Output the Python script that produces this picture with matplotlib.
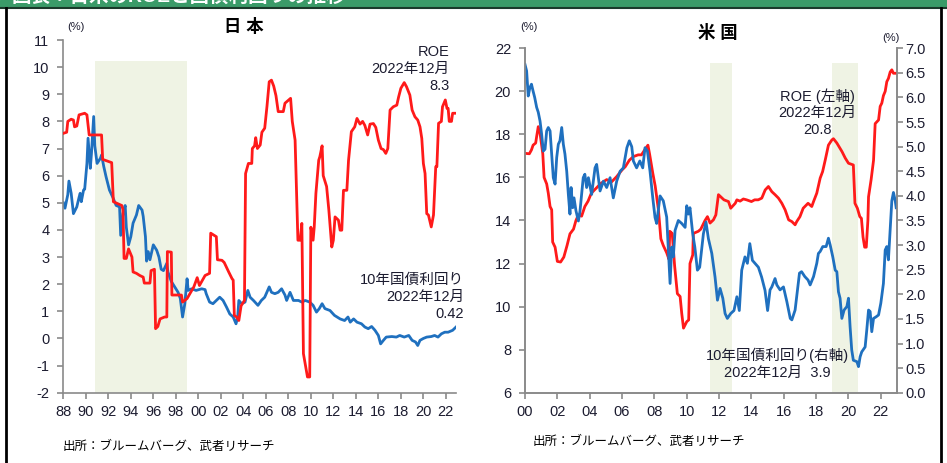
import matplotlib
matplotlib.use('Agg')
import matplotlib.pyplot as plt
from matplotlib.patches import Rectangle
from matplotlib.lines import Line2D

plt.rcParams['font.family'] = ['Liberation Sans', 'Noto Sans CJK JP']
plt.rcParams['axes.unicode_minus'] = False

# ---- Japan: ROE and 10y JGB yield (%), decimal years ----
jp_roe_year = [1988.0, 1988.3, 1988.4, 1988.7, 1988.9, 1989.0, 1989.2, 1989.4, 1989.9, 1990.1,
               1990.3, 1991.4, 1991.5, 1992.3, 1992.45, 1993.2, 1993.3, 1993.4, 1993.6, 1993.8,
               1994.1, 1994.2, 1994.5, 1994.8, 1995.1, 1995.2, 1995.7, 1995.8, 1996.1, 1996.2,
               1996.4, 1996.6, 1997.0, 1997.2, 1997.25, 1997.6, 1997.65, 1998.5, 1998.6, 1999.0,
               1999.6, 1999.9, 2000.1, 2000.6, 2001.0, 2001.1, 2001.6, 2001.7, 2002.1, 2002.3,
               2002.7, 2003.0, 2003.1, 2003.2, 2003.4, 2003.6, 2003.8, 2004.1, 2004.2, 2004.45,
               2004.75, 2004.8, 2005.0, 2005.1, 2005.25, 2005.5, 2005.65, 2005.9, 2006.1, 2006.3,
               2006.5, 2006.7, 2006.9, 2007.1, 2007.55, 2007.7, 2008.2, 2008.35, 2008.6, 2008.85,
               2009.05, 2009.2, 2009.34, 2009.55, 2009.7, 2009.9, 2010.0, 2010.2, 2010.3, 2010.45,
               2010.7, 2010.8, 2011.0, 2011.1, 2011.4, 2011.6, 2011.86, 2012.0, 2012.15, 2012.45,
               2012.6, 2012.75, 2012.9, 2013.2, 2013.35, 2013.6, 2013.9, 2014.1, 2014.37, 2014.6,
               2014.8, 2015.05, 2015.26, 2015.56, 2015.77, 2016.0, 2016.24, 2016.45, 2016.66, 2016.84,
               2017.04, 2017.33, 2017.64, 2017.8, 2018.0, 2018.3, 2018.5, 2018.8, 2019.0, 2019.25,
               2019.5, 2019.7, 2019.86, 2020.0, 2020.15, 2020.3, 2020.45, 2020.7, 2020.9, 2021.1,
               2021.2, 2021.35, 2021.6, 2021.7, 2021.95, 2022.1, 2022.2, 2022.3, 2022.5, 2022.6,
               2022.9]
jp_roe = [7.56, 7.6, 8.0, 8.08, 8.05, 7.8, 7.83, 8.24, 8.3, 8.24,
          7.5, 7.5, 6.6, 6.48, 5.04, 4.9, 4.75, 2.95, 2.95, 3.3,
          3.0, 2.45, 2.4, 2.32, 2.26, 2.04, 2.04, 2.5, 2.55, 0.36,
          0.44, 0.72, 0.79, 0.79, 3.2, 3.18, 1.6, 1.6, 1.34, 1.47,
          1.9, 2.24, 1.95, 2.32, 2.4, 3.88, 3.75, 2.9, 2.88, 2.8,
          2.45, 2.2, 2.15, 0.85, 0.79, 0.66, 1.2, 1.4, 6.08, 6.45,
          6.45, 7.0, 7.1, 7.4, 7.0, 7.13, 7.6, 7.75, 8.55, 9.46,
          9.52, 9.3, 8.95, 8.36, 8.36, 8.67, 8.85, 8.0, 7.31, 3.62,
          3.62, 4.24, -0.56, -1.05, -1.42, -1.42, 4.1, 3.62, 4.1, 5.35,
          6.57, 6.7, 7.1, 6.0, 5.6, 4.73, 3.37, 3.62, 4.48, 4.36,
          3.99, 3.99, 5.46, 5.46, 6.57, 7.62, 7.8, 8.11, 7.9, 8.0,
          7.85, 7.5, 7.9, 7.92, 7.78, 7.31, 7.0, 6.96, 6.82, 7.0,
          8.42, 8.54, 8.6, 8.9, 9.22, 9.43, 9.28, 8.97, 8.42, 8.17,
          8.05, 7.8, 7.37, 6.45, 6.08, 4.6, 4.55, 4.11, 4.55, 6.33,
          6.33, 7.93, 8.0, 8.54, 8.79, 8.48, 8.48, 8.0, 8.0, 8.3,
          8.3]

jp_bond_year = [1988.0, 1988.15, 1988.3, 1988.4, 1988.5, 1988.7, 1988.9, 1989.2, 1989.4, 1989.5,
                1989.6, 1989.8, 1989.9, 1990.1, 1990.2, 1990.4, 1990.5, 1990.7, 1990.8, 1991.0,
                1991.3, 1991.4, 1991.6, 1991.8, 1992.1, 1992.4, 1992.7, 1993.0, 1993.1, 1993.3,
                1993.5, 1993.6, 1993.8, 1994.0, 1994.2, 1994.5, 1994.7, 1995.0, 1995.1, 1995.3,
                1995.4, 1995.55, 1995.7, 1996.0, 1996.3, 1996.5, 1996.7, 1996.9, 1997.2, 1997.3,
                1997.6, 1997.9, 1998.2, 1998.4, 1998.6, 1998.8, 1999.0, 1999.1, 1999.4, 1999.8,
                2000.3, 2000.6, 2000.7, 2001.0, 2001.3, 2001.6, 2001.9, 2002.2, 2002.5, 2002.8,
                2003.1, 2003.35, 2003.5, 2003.6, 2003.85, 2004.15, 2004.4, 2004.6, 2004.9, 2005.3,
                2005.6, 2005.9, 2006.3, 2006.5, 2006.8, 2007.1, 2007.4, 2007.7, 2007.85, 2008.15,
                2008.45, 2008.9, 2009.2, 2009.5, 2009.9, 2010.2, 2010.5, 2010.75, 2011.0, 2011.25,
                2011.7, 2012.1, 2012.6, 2013.0, 2013.3, 2013.5, 2013.8, 2014.1, 2014.5, 2014.8,
                2015.1, 2015.4, 2015.7, 2016.0, 2016.2, 2016.45, 2016.7, 2017.2, 2017.6, 2017.9,
                2018.3, 2018.7, 2019.0, 2019.3, 2019.5, 2019.7, 2020.0, 2020.3, 2020.7, 2021.0,
                2021.3, 2021.6, 2021.9, 2022.2, 2022.6, 2022.9]
jp_bond = [5.0, 4.8, 5.1, 5.3, 5.8, 5.35, 4.6, 4.85, 5.2, 5.35,
           5.04, 5.47, 5.5, 6.45, 7.38, 6.27, 6.8, 8.18, 7.1, 6.45,
           6.64, 6.76, 6.33, 5.96, 5.47, 5.2, 4.9, 4.85, 3.8, 4.6,
           4.9, 4.1, 3.45, 3.75, 4.25, 4.55, 4.9, 4.73, 4.5, 3.75,
           2.85, 3.2, 2.9, 3.45, 3.25, 3.0, 2.55, 2.5, 2.77, 2.45,
           2.1, 1.9, 1.7, 1.47, 0.79, 1.28, 2.2, 1.77, 1.83, 1.77,
           1.83, 1.8, 1.65, 1.34, 1.28, 1.4, 1.52, 1.4, 1.16, 0.9,
           0.79, 0.54, 0.79, 1.4, 1.28, 1.34, 1.77, 1.52, 1.4, 1.22,
           1.4, 1.52, 1.9, 1.7, 1.65, 1.7, 1.83, 1.6, 1.4, 1.7,
           1.4, 1.4, 1.34, 1.4, 1.34, 1.22, 0.97, 1.1, 1.28, 1.1,
           1.03, 0.85, 0.72, 0.66, 0.79, 0.6, 0.72, 0.6, 0.54, 0.42,
           0.36, 0.44, 0.3, 0.11, -0.2, -0.07, 0.05, 0.07, 0.05, 0.11,
           0.05, 0.11, -0.07, -0.13, -0.26, -0.07, 0.0, 0.05, 0.07, 0.11,
           0.05, 0.17, 0.23, 0.23, 0.3, 0.42]
jp_shade = [1990.8, 1998.97]

# ---- US: ROE (left axis, %) and 10y Treasury yield (right axis, %) ----
us_roe_year = [2000.0, 2000.27, 2000.4, 2000.5, 2000.66, 2000.72, 2000.82, 2000.93, 2001.1, 2001.18,
               2001.34, 2001.44, 2001.55, 2001.65, 2001.71, 2001.86, 2002.0, 2002.2, 2002.4, 2002.6,
               2002.78, 2003.0, 2003.15, 2003.3, 2003.5, 2003.7, 2003.9, 2004.1, 2004.4, 2004.7,
               2005.05, 2005.36, 2005.67, 2006.0, 2006.2, 2006.45, 2006.7, 2007.0, 2007.2, 2007.4,
               2007.6, 2007.7, 2007.9, 2008.05, 2008.25, 2008.4, 2008.55, 2008.76, 2008.9, 2008.95,
               2009.1, 2009.15, 2009.25, 2009.42, 2009.59, 2009.69, 2009.8, 2010.0, 2010.12, 2010.2,
               2010.37, 2010.41, 2010.72, 2010.87, 2011.13, 2011.28, 2011.44, 2011.65, 2011.8, 2011.96,
               2012.1, 2012.3, 2012.58, 2012.72, 2013.0, 2013.1, 2013.3, 2013.5, 2013.7, 2014.0,
               2014.2, 2014.42, 2014.64, 2014.85, 2015.05, 2015.26, 2015.46, 2015.67, 2015.88, 2016.08,
               2016.3, 2016.5, 2016.7, 2016.8, 2017.0, 2017.2, 2017.5, 2017.73, 2017.84, 2018.04,
               2018.25, 2018.4, 2018.56, 2018.76, 2018.97, 2019.07, 2019.28, 2019.6, 2019.8, 2020.0,
               2020.3, 2020.4, 2020.55, 2020.7, 2020.8, 2020.9, 2021.0, 2021.1, 2021.2, 2021.24,
               2021.4, 2021.55, 2021.65, 2021.86, 2021.96, 2022.06, 2022.16, 2022.27, 2022.37, 2022.47,
               2022.58, 2022.68, 2022.78, 2022.95]
us_roe = [17.12, 17.1, 17.28, 17.5, 17.6, 17.9, 18.36, 18.05, 17.1, 16.0,
          15.7, 15.27, 14.65, 14.5, 13.0, 12.76, 12.1, 12.07, 12.3, 12.84,
          13.38, 13.6, 14.0, 14.26, 14.2, 14.65, 14.9, 15.27, 15.5, 15.73,
          15.9, 15.8, 16.04, 16.35, 16.5, 16.8, 16.97, 17.05, 17.05, 17.28,
          17.5, 17.1, 16.2, 15.6, 14.5, 13.15, 12.84, 12.5, 12.2, 13.5,
          13.4, 12.9, 11.9, 10.6, 10.47, 9.69, 9.0, 9.3, 9.38, 12.0,
          12.4, 13.4, 13.5, 13.6, 14.0, 14.18, 13.88, 14.03, 14.26, 15.2,
          15.1, 14.96, 14.88, 14.57, 14.8, 14.96, 14.9, 15.0, 14.96, 14.88,
          14.96, 14.96, 15.04, 15.42, 15.58, 15.34, 15.2, 15.04, 14.8, 14.5,
          14.03, 13.95, 13.8, 13.95, 14.18, 14.57, 14.8, 14.65, 14.88, 15.27,
          15.97, 16.27, 16.8, 17.5, 17.74, 17.8, 17.6, 17.2, 16.9, 16.66,
          16.58, 14.8, 14.57, 14.18, 14.1, 13.23, 12.76, 12.76, 14.0, 15.1,
          15.9, 16.8, 18.5, 18.67, 19.3, 19.45, 19.8, 20.0, 20.45, 20.6,
          20.9, 21.0, 20.84, 20.84]

us_bond_year = [2000.0, 2000.1, 2000.2, 2000.3, 2000.4, 2000.5, 2000.6, 2000.72, 2000.82, 2000.93,
                2001.03, 2001.13, 2001.24, 2001.34, 2001.44, 2001.55, 2001.65, 2001.75, 2001.86, 2001.96,
                2002.06, 2002.16, 2002.27, 2002.37, 2002.47, 2002.58, 2002.68, 2002.78, 2002.85, 2002.95,
                2003.03, 2003.15, 2003.3, 2003.4, 2003.6, 2003.7, 2003.81, 2003.92, 2004.12, 2004.33,
                2004.43, 2004.64, 2004.85, 2005.05, 2005.26, 2005.46, 2005.67, 2005.88, 2006.08, 2006.3,
                2006.45, 2006.6, 2006.7, 2006.9, 2007.1, 2007.28, 2007.42, 2007.57, 2007.73, 2007.9,
                2008.04, 2008.14, 2008.35, 2008.55, 2008.76, 2008.97, 2009.07, 2009.17, 2009.28, 2009.48,
                2009.69, 2009.9, 2010.0, 2010.1, 2010.2, 2010.37, 2010.5, 2010.66, 2010.8, 2011.03,
                2011.19, 2011.34, 2011.55, 2011.75, 2011.9, 2012.06, 2012.23, 2012.37, 2012.51, 2012.72,
                2012.92, 2013.1, 2013.25, 2013.4, 2013.6, 2013.75, 2013.9, 2014.06, 2014.22, 2014.43,
                2014.63, 2014.84, 2015.0, 2015.15, 2015.26, 2015.46, 2015.57, 2015.77, 2015.98, 2016.19,
                2016.4, 2016.5, 2016.7, 2016.85, 2016.97, 2017.1, 2017.3, 2017.5, 2017.63, 2017.84,
                2018.04, 2018.14, 2018.25, 2018.41, 2018.62, 2018.76, 2018.87, 2019.03, 2019.18, 2019.28,
                2019.38, 2019.48, 2019.59, 2019.73, 2019.9, 2020.0, 2020.1, 2020.2, 2020.3, 2020.52,
                2020.62, 2020.72, 2020.82, 2021.03, 2021.13, 2021.24, 2021.34, 2021.44, 2021.55, 2021.7,
                2021.86, 2022.0, 2022.16, 2022.27, 2022.37, 2022.47, 2022.53, 2022.68, 2022.78, 2022.89,
                2022.95]
us_bond = [6.67, 6.54, 6.03, 6.2, 6.27, 6.13, 6.0, 5.8, 5.7, 5.52,
           5.25, 4.91, 4.95, 5.32, 5.39, 5.32, 4.85, 4.37, 4.24, 4.78,
           5.05, 5.12, 5.39, 5.05, 4.85, 4.5, 4.03, 3.63, 4.17, 3.76,
           3.96, 3.7, 3.49, 3.69, 4.37, 4.44, 4.17, 4.37, 4.03, 4.57,
           4.64, 4.1, 4.3, 4.17, 4.37, 3.96, 4.3, 4.5, 4.57, 4.98,
           5.12, 5.0, 4.71, 4.57, 4.71, 4.57, 4.98, 4.91, 4.5, 3.96,
           3.56, 3.44, 4.0, 3.9, 3.57, 2.22, 2.96, 2.76, 3.3, 3.5,
           3.44, 3.36, 3.8, 3.63, 3.76, 3.23, 2.96, 2.49, 2.55, 3.23,
           3.47, 3.13, 2.83, 2.35, 1.88, 2.12, 1.92, 1.61, 1.51, 1.61,
           1.67, 1.95, 1.67, 2.49, 2.76, 2.63, 3.03, 2.69, 2.63, 2.55,
           2.35, 2.08, 1.67, 2.09, 2.15, 2.32, 2.19, 2.09, 2.15, 1.85,
           1.51, 1.48, 1.68, 2.09, 2.43, 2.46, 2.36, 2.29, 2.19, 2.36,
           2.63, 2.83, 2.87, 2.97, 2.97, 3.14, 3.0, 2.76, 2.49, 2.46,
           2.05, 1.92, 1.51, 1.68, 1.75, 1.92, 1.34, 0.87, 0.66, 0.63,
           0.53, 0.73, 0.83, 0.93, 1.27, 1.68, 1.65, 1.24, 1.51, 1.54,
           1.58, 1.82, 2.22, 2.9, 2.97, 2.7, 3.04, 3.9, 4.07, 3.9,
           3.76]
us_shades = [(2011.44, 2012.78), (2018.97, 2020.6)]

RED, BLUE, SHADE = '#ff1a1a', '#1f70bf', '#eff3e4'
TXT, AXC = '#1c1c30', '#8a8a8a'
W, H = 947, 463


def box(x0, y0, x1, y1):
    return [x0 / W, 1 - y1 / H, (x1 - x0) / W, (y1 - y0) / H]


def style(ax, sides):
    for s in ['top', 'right', 'left', 'bottom']:
        ax.spines[s].set_visible(s in sides)
        ax.spines[s].set_color(AXC)
        ax.spines[s].set_linewidth(1.2)
    ax.tick_params(colors=AXC, labelcolor=TXT, labelsize=10.5, length=4, width=1.2)
    ax.tick_params(axis='x', pad=5)
    ax.tick_params(axis='y', pad=6)


fig = plt.figure(figsize=(9.47, 4.63), dpi=100)

# header strip (its title is cropped in the source image) and frame
fig.patches.append(Rectangle((0, 1 - 7 / H), 1, 7 / H, transform=fig.transFigure, color='#3a9b68', zorder=0))
fig.text(0.012, 1 + 4 / H, '図表：日米のROEと国債利回りの推移', color='white', fontsize=14,
         fontweight='bold', va='center')
fig.add_artist(Line2D([0, 1], [1 - 8 / H] * 2, transform=fig.transFigure, color='#1a3a2a', lw=1.5))
fig.add_artist(Line2D([5.5 / W] * 2, [0, 1 - 8 / H], transform=fig.transFigure, color='black', lw=2))
fig.add_artist(Line2D([941 / W] * 2, [0, 1 - 8 / H], transform=fig.transFigure, color='black', lw=2))

# ---- Japan ----
ax1 = fig.add_axes(box(63.3, 40, 456, 392.7))
ax1.fill_between(jp_shade, -2, 10.22, color=SHADE, lw=0, zorder=0)
ax1.plot(jp_bond_year, jp_bond, color=BLUE, lw=2.0, zorder=2)
ax1.plot(jp_roe_year, jp_roe, color=RED, lw=2.0, zorder=3)
ax1.set_xlim(1988, 2022.9)
ax1.set_ylim(-2, 11)
ax1.set_yticks(range(-2, 12))
ax1.set_xticks(range(1988, 2023, 2))
ax1.set_xticklabels([f'{y % 100:02d}' for y in range(1988, 2023, 2)])
style(ax1, ['left', 'bottom'])
ax1.text(2022.3, 10.8, 'ROE\n2022年12月\n8.3', ha='right', va='top', fontsize=10.5,
         color=TXT, linespacing=1.25)
ax1.text(2023.6, 2.4, '10年国債利回り\n2022年12月\n0.42', ha='right', va='top', fontsize=10.5,
         color=TXT, linespacing=1.25)
fig.text(244 / W, 1 - 27 / H, '日 本', ha='center', va='center', fontsize=12.5, fontweight='bold', color='black')
fig.text(76 / W, 1 - 27 / H, '(%)', ha='center', va='center', fontsize=8, color=TXT)
fig.text(63 / W, 1 - 447 / H, '出所：ブルームバーグ、武者リサーチ', ha='left', va='center', fontsize=9, color='black')

# ---- US ----
ax2 = fig.add_axes(box(525, 48.3, 897, 392.7))
for a, b in us_shades:
    ax2.fill_between([a, b], 6, 21.33, color=SHADE, lw=0, zorder=0)
ax2.plot(us_roe_year, us_roe, color=RED, lw=2.0, zorder=3)
ax2.set_xlim(2000, 2023.0)
ax2.set_ylim(6, 22)
ax2.set_yticks(range(6, 23, 2))
ax2.set_xticks(range(2000, 2023, 2))
ax2.set_xticklabels([f'{y % 100:02d}' for y in range(2000, 2023, 2)])
style(ax2, ['left', 'bottom', 'right'])

ax2r = ax2.twinx()
ax2r.plot(us_bond_year, us_bond, color=BLUE, lw=2.0)
ax2r.set_ylim(0, 7)
ax2r.set_yticks([i * 0.5 for i in range(15)])
ax2r.set_yticklabels([f'{i * 0.5:.1f}' for i in range(15)])
style(ax2r, ['left', 'bottom', 'right'])
ax2r.tick_params(axis='y', pad=2)

ax2.text(2018.06, 20.16, 'ROE (左軸)\n2022年12月\n20.8', ha='center', va='top', fontsize=10.5,
         color=TXT, linespacing=1.25, zorder=5)
ax2.text(2015.6, 8.08, '10年国債利回り(右軸)\n2022年12月  3.9', ha='center', va='top', fontsize=10.5,
         color=TXT, linespacing=1.25, zorder=5)
fig.text(529 / W, 1 - 27 / H, '(%)', ha='center', va='center', fontsize=8, color=TXT)
fig.text(891 / W, 1 - 38 / H, '(%)', ha='center', va='center', fontsize=8, color=TXT)
fig.text(718 / W, 1 - 33 / H, '米 国', ha='center', va='center', fontsize=12.5, fontweight='bold', color='black')
fig.text(533 / W, 1 - 442 / H, '出所：ブルームバーグ、武者リサーチ', ha='left', va='center', fontsize=9, color='black')

fig.savefig('out.png', dpi=100)
